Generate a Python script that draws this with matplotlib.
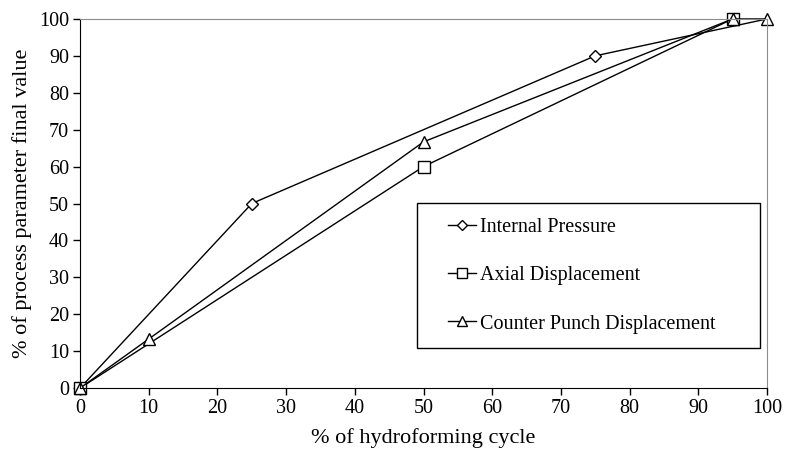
import matplotlib
matplotlib.use("Agg")
import matplotlib.pyplot as plt
from matplotlib.patches import Rectangle

# hydroforming cycle profiles (% of cycle vs % of final value)
ip_x = [0, 25, 75, 100]
ip_y = [0, 50, 90, 100]
ad_x = [0, 50, 95]
ad_y = [0, 60, 100]
cp_x = [0, 10, 50, 95, 100]
cp_y = [0, 13.3, 66.7, 100, 100]

plt.rcParams['font.family'] = ['Liberation Serif', 'DejaVu Serif']
plt.rcParams['font.size'] = 14.5

fig = plt.figure(figsize=(7.85, 4.62), dpi=100)
ax = fig.add_axes([0.102, 0.160, 0.875, 0.799])

style = dict(color='black', lw=1.0, markerfacecolor='white',
             markeredgecolor='black', markeredgewidth=1.0, clip_on=False)
ax.plot(ip_x, ip_y, marker='D', markersize=6, markevery=[0, 1, 2],
        label='Internal Pressure', **style)
ax.plot(ad_x, ad_y, marker='s', markersize=8.5, label='Axial Displacement', **style)
ax.plot(cp_x, cp_y, marker='^', markersize=9, label='Counter Punch Displacement', **style)

ax.set_xlim(0, 100)
ax.set_ylim(0, 100)
ax.set_xticks(range(0, 101, 10))
ax.set_yticks(range(0, 101, 10))
ax.tick_params(direction='out', length=5, width=1, color='black', pad=3)
for side in ['top', 'right']:
    ax.spines[side].set_color('#8c8c8c')
for side in ['left', 'bottom']:
    ax.spines[side].set_color('black')
ax.set_xlabel('% of hydroforming cycle', fontsize=16, labelpad=7)
ax.set_ylabel('% of process parameter final value', fontsize=16, labelpad=5)

# legend box drawn separately so the entries can sit inset from the frame
box = Rectangle((0.49, 0.108), 0.5, 0.393, transform=ax.transAxes,
                facecolor='white', edgecolor='black', lw=1.0, zorder=5)
ax.add_patch(box)
leg = ax.legend(loc='center left', bbox_to_anchor=(0.535, 0.3045),
                frameon=False, handlelength=1.4, handletextpad=0.2,
                labelspacing=1.45, borderpad=0, borderaxespad=0,
                markerscale=0.85)
leg.set_zorder(6)

fig.savefig('out.png', dpi=100)
